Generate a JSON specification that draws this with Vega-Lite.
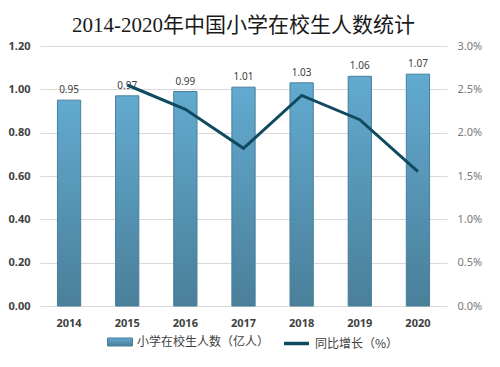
{
  "$schema": "https://vega.github.io/schema/vega-lite/v6.json",
  "width": 407,
  "height": 260,
  "autosize": "none",
  "padding": {"left": 40, "top": 46, "right": 53, "bottom": 61},
  "background": "white",
  "title": {
    "text": "2014-2020年中国小学在校生人数统计",
    "font": "Liberation Serif, Noto Sans CJK SC",
    "fontSize": 21,
    "fontWeight": "normal",
    "color": "#1a1a1a",
    "anchor": "middle",
    "baseline": "alphabetic",
    "offset": -13
  },
  "data": {
    "values": [
      {"year": "2014", "count": 0.95, "growth": null},
      {"year": "2015", "count": 0.97, "growth": 2.55},
      {"year": "2016", "count": 0.99, "growth": 2.27},
      {"year": "2017", "count": 1.01, "growth": 1.82},
      {"year": "2018", "count": 1.03, "growth": 2.43},
      {"year": "2019", "count": 1.06, "growth": 2.15},
      {"year": "2020", "count": 1.07, "growth": 1.55}
    ]
  },
  "encoding": {
    "x": {
      "field": "year",
      "type": "ordinal",
      "scale": {"paddingInner": 0.6, "paddingOuter": 0.3},
      "axis": {
        "title": null,
        "labelAngle": 0,
        "domain": false,
        "ticks": false,
        "labelPadding": 11,
        "labelFont": "Noto Sans",
        "labelFontSize": 11,
        "labelFontWeight": "bold",
        "labelColor": "#404040"
      }
    }
  },
  "layer": [
    {
      "layer": [
        {
          "mark": {
            "type": "bar",
            "strokeWidth": 1,
            "fill": {
              "gradient": "linear",
              "x1": 0, "y1": 0, "x2": 0, "y2": 1,
              "stops": [
                {"offset": 0, "color": "#62aad0"},
                {"offset": 1, "color": "#4a7f99"}
              ]
            }
          },
          "encoding": {
            "y": {
              "field": "count",
              "type": "quantitative",
              "scale": {"domain": [0, 1.2]},
              "axis": {
                "title": null,
                "values": [0, 0.2, 0.4, 0.6, 0.8, 1.0, 1.2],
                "format": ".2f",
                "domain": false,
                "ticks": false,
                "labelPadding": 10,
                "grid": true,
                "gridColor": "#d9d9d9",
                "labelFont": "Noto Sans",
                "labelFontSize": 11,
                "labelFontWeight": "bold",
                "labelColor": "#404040"
              }
            },
            "stroke": {
              "datum": "小学在校生人数（亿人）",
              "scale": {"range": ["#477f9b"]},
              "legend": {
                "orient": "none",
                "legendX": 67,
                "legendY": 283,
                "title": null,
                "labelFont": "Noto Sans CJK SC",
                "labelFontSize": 12,
                "labelColor": "#404040",
                "labelOffset": 4,
                "symbolSize": 625,
                "symbolType": "M-1,-0.32H1V0.32H-1Z",
                "symbolStrokeWidth": 1
              }
            }
          }
        },
        {
          "mark": {
            "type": "text",
            "dy": -10,
            "font": "Noto Sans",
            "fontSize": 10,
            "color": "#404040"
          },
          "encoding": {
            "y": {"field": "count", "type": "quantitative"},
            "text": {"field": "count", "type": "quantitative", "format": ".2f"}
          }
        }
      ]
    },
    {
      "transform": [{"filter": "datum.growth != null"}],
      "mark": {"type": "line", "strokeWidth": 3},
      "encoding": {
        "y": {
          "field": "growth",
          "type": "quantitative",
          "scale": {"domain": [0, 3]},
          "axis": {
            "orient": "right",
            "title": null,
            "values": [0, 0.5, 1, 1.5, 2, 2.5, 3],
            "labelExpr": "format(datum.value, '.1f') + '%'",
            "domain": false,
            "ticks": false,
            "grid": false,
            "labelPadding": 10,
            "labelFont": "Noto Sans",
            "labelFontSize": 11,
            "labelColor": "#7a7a7a"
          }
        },
        "color": {
          "datum": "同比增长（%）",
          "scale": {"range": ["#0f4a5e"]},
          "legend": {
            "orient": "none",
            "legendX": 242,
            "legendY": 283,
            "title": null,
            "labelFont": "Noto Sans CJK SC",
            "labelFontSize": 12,
            "labelColor": "#404040",
            "labelOffset": 4,
            "symbolSize": 625,
            "symbolType": "stroke",
            "symbolStrokeWidth": 3.5
          }
        }
      }
    }
  ],
  "resolve": {"scale": {"y": "independent"}},
  "config": {
    "view": {"stroke": null}
  }
}
